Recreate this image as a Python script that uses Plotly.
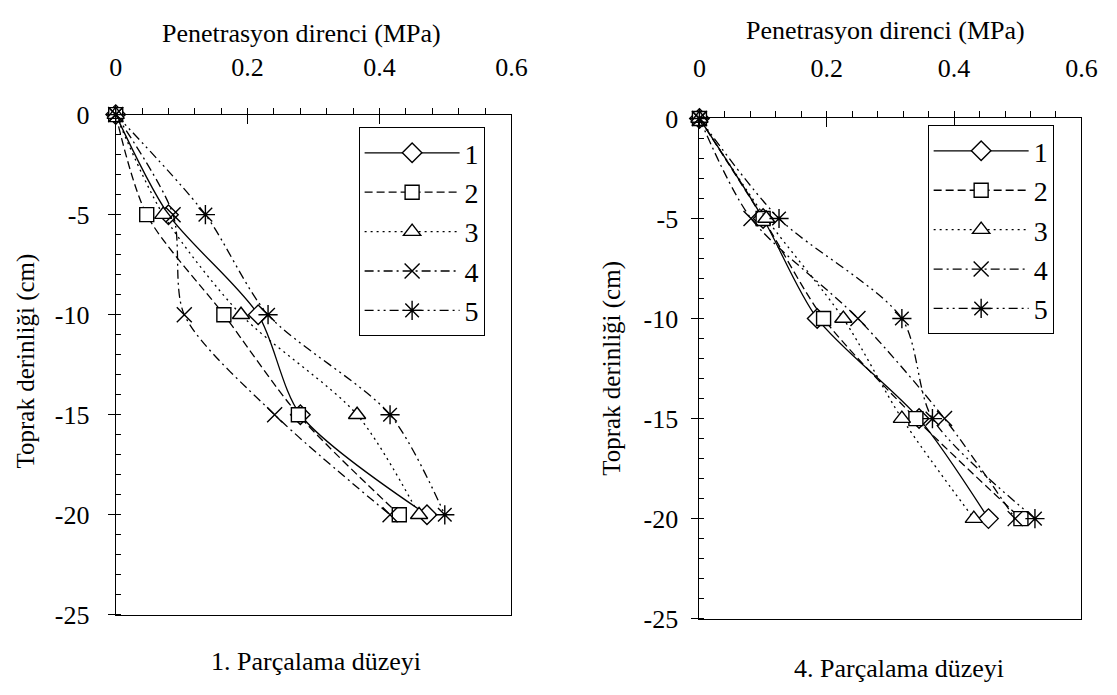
import plotly.graph_objects as go

# ---------------- data ----------------
depth = [0, -5, -10, -15, -20]
series_names = ["1", "2", "3", "4", "5"]

# Left panel: 1. Parçalama düzeyi  (MPa)
left_1 = [0, 0.080, 0.216, 0.280, 0.472]
left_2 = [0, 0.047, 0.164, 0.277, 0.430]
left_3 = [0, 0.072, 0.190, 0.366, 0.460]
left_4 = [0, 0.087, 0.104, 0.241, 0.416]
left_5 = [0, 0.136, 0.231, 0.416, 0.499]

# Right panel: 4. Parçalama düzeyi  (MPa)
right_1 = [0, 0.100, 0.185, 0.345, 0.454]
right_2 = [0, 0.100, 0.195, 0.340, 0.505]
right_3 = [0, 0.105, 0.226, 0.318, 0.431]
right_4 = [0, 0.081, 0.249, 0.385, 0.496]
right_5 = [0, 0.125, 0.318, 0.366, 0.527]

x_tickvals = [0, 0.2, 0.4, 0.6]
x_ticktext = ["0", "0.2", "0.4", "0.6"]
y_tickvals = [0, -5, -10, -15, -20, -25]
y_ticktext = ["0", "-5", "-10", "-15", "-20", "-25"]

x_title = "Penetrasyon direnci (MPa)"
y_title = "Toprak derinliği (cm)"
captions = ["1. Parçalama düzeyi", "4. Parçalama düzeyi"]

# ---------------- styles ----------------
FONT = "Liberation Serif, Times New Roman, Times, serif"
styles = [
    dict(dash="solid", symbol="diamond", size=15),
    dict(dash="8px,4px", symbol="square", size=14),
    dict(dash="2px,4px", symbol="triangle-up", size=15),
    dict(dash="9px,4px,2px,4px", symbol="x-thin", size=15),
    dict(dash="9px,4px,2px,4px,2px,4px", symbol="asterisk", size=16),
]

W, H = 1117, 695


def px_x(p):
    return p / W


def px_y(p):
    return 1 - p / H


fig = go.Figure()

left = [left_1, left_2, left_3, left_4, left_5]
right = [right_1, right_2, right_3, right_4, right_5]

for vals, xa, ya, leg in [(left, "x", "y", "legend"), (right, "x2", "y2", "legend2")]:
    for i, name in enumerate(series_names):
        st = styles[i]
        fig.add_trace(go.Scatter(
            x=vals[i], y=depth, name=name, xaxis=xa, yaxis=ya, legend=leg,
            mode="lines+markers", cliponaxis=False,
            line=dict(color="black", width=1.3, dash=st["dash"], shape="spline", smoothing=0.8),
            marker=dict(symbol=st["symbol"], size=st["size"], color="white",
                        line=dict(color="black", width=1.4)),
        ))

tickfont = dict(family=FONT, size=26, color="black")


def xaxis(domain, standoff):
    return dict(domain=domain, range=[0, 0.6], side="top",
                tickvals=x_tickvals, ticktext=x_ticktext, tickfont=tickfont,
                ticks="inside", ticklen=9, tickwidth=1, tickcolor="black",
                minor=dict(dtick=0.04, tick0=0, ticks="outside", ticklen=6, tickcolor="black", tickwidth=1),
                showline=True, linecolor="black", linewidth=1, mirror=True,
                showgrid=False, zeroline=False, ticklabelstandoff=standoff, fixedrange=True)


def yaxis(domain, standoff):
    return dict(domain=domain, range=[-25, 0],
                tickvals=y_tickvals, ticktext=y_ticktext, tickfont=tickfont,
                ticks="outside", ticklen=7, tickwidth=1, tickcolor="black",
                minor=dict(dtick=1, tick0=0, ticks="inside", ticklen=5, tickcolor="black", tickwidth=1),
                showline=True, linecolor="black", linewidth=1, mirror=True,
                showgrid=False, zeroline=False, ticklabelstandoff=standoff, fixedrange=True)


legend_common = dict(font=dict(family=FONT, size=28, color="black"),
                     bgcolor="white", bordercolor="black", borderwidth=1,
                     xanchor="left", yanchor="top", tracegroupgap=0, itemwidth=95,
                     itemclick=False, itemdoubleclick=False)

fig.update_layout(
    width=W, height=H,
    margin=dict(l=0, r=0, t=0, b=0),
    paper_bgcolor="white", plot_bgcolor="white",
    font=dict(family=FONT, color="black"),
    xaxis=dict(anchor="y", **xaxis([px_x(111), px_x(515)], 27)),
    yaxis=dict(anchor="x", **yaxis([px_y(627), px_y(105)], 13)),
    xaxis2=dict(anchor="y2", **xaxis([px_x(707), px_x(1097)], 30)),
    yaxis2=dict(anchor="x2", **yaxis([px_y(631), px_y(109)], 8)),
    legend=dict(x=px_x(359), y=px_y(118), **legend_common),
    legend2=dict(x=px_x(940), y=px_y(116), **legend_common),
    showlegend=True,
)

title_font = dict(family=FONT, size=26, color="black")
ytitle_font = dict(family=FONT, size=25, color="black")
annotations = [
    dict(text=x_title, x=px_x(301), y=px_y(20), xref="paper", yref="paper",
         showarrow=False, font=title_font, xanchor="center", yanchor="middle"),
    dict(text=x_title, x=px_x(897), y=px_y(17), xref="paper", yref="paper",
         showarrow=False, font=title_font, xanchor="center", yanchor="middle"),
    dict(text=y_title, x=px_x(19), y=px_y(362), xref="paper", yref="paper",
         showarrow=False, font=ytitle_font, textangle=-90, xanchor="center", yanchor="middle"),
    dict(text=y_title, x=px_x(617), y=px_y(370), xref="paper", yref="paper",
         showarrow=False, font=ytitle_font, textangle=-90, xanchor="center", yanchor="middle"),
    dict(text=captions[0], x=px_x(315), y=px_y(676), xref="paper", yref="paper",
         showarrow=False, font=title_font, xanchor="center", yanchor="middle"),
    dict(text=captions[1], x=px_x(911), y=px_y(683), xref="paper", yref="paper",
         showarrow=False, font=title_font, xanchor="center", yanchor="middle"),
]
fig.update_layout(annotations=annotations)

fig.write_html("out.html")
